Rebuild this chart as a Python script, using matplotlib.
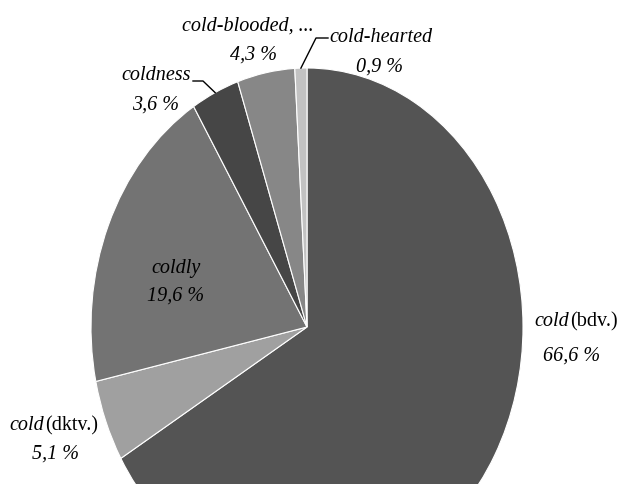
import matplotlib
matplotlib.use('Agg')
import matplotlib.pyplot as plt
import numpy as np

# Shares of the word forms (%)
names_it = ['cold', 'cold', 'coldly', 'coldness', 'cold-blooded, ...', 'cold-hearted']
names_rm = ['(bdv.)', '(dktv.)', '', '', '', '']
shares = [66.6, 5.1, 19.6, 3.6, 4.3, 0.9]
pct_labels = ['66,6 %', '5,1 %', '19,6 %', '3,6 %', '4,3 %', '0,9 %']
colors = ['#545454', '#a0a0a0', '#737373', '#464646', '#878787', '#c2c2c2']

# label positions in figure pixels (x, y from top); for two-font names x is the split point
name_pos = [(569, 322), (44, 426), (176, 268), (156, 76), (248, 26), (381, 37)]
pct_pos = [(572, 356), (55, 454), (176, 296), (156, 105), (254, 55), (380, 67)]
# leader lines: text end -> elbow -> wedge edge
leaders = {3: [(193, 81), (203, 81)], 5: [(328, 38), (316, 38)]}

plt.rcParams['font.family'] = 'Liberation Serif'

W, H = 624, 484
fig = plt.figure(figsize=(W / 100, H / 100), dpi=100)
# stretched (elliptical) pie: x radius 216 px, y radius 259 px, centre at (307, 327)
cx, cy, rx, ry = 307, 327, 216, 259
ax = fig.add_axes([(cx - rx) / W, (H - cy - ry) / H, 2 * rx / W, 2 * ry / H])

wedges, _ = ax.pie(shares, colors=colors, startangle=90, counterclock=False,
                   radius=1, wedgeprops=dict(edgecolor='white', linewidth=0.8))
ax.set_aspect('auto')
ax.set_xlim(-1, 1)
ax.set_ylim(-1, 1)
ax.axis('off')

def px(x, y):
    return x / W, 1 - y / H

size = 14.5
for i in range(len(shares)):
    if names_rm[i]:
        fig.text(*px(*name_pos[i]), names_it[i], ha='right', va='center',
                 fontsize=size, fontstyle='italic')
        fig.text(*px(name_pos[i][0] + 1, name_pos[i][1]), names_rm[i], ha='left',
                 va='center', fontsize=size)
    else:
        fig.text(*px(*name_pos[i]), names_it[i], ha='center', va='center',
                 fontsize=size, fontstyle='italic')
    fig.text(*px(*pct_pos[i]), pct_labels[i], ha='center', va='center',
             fontsize=size, fontstyle='italic')

for i, pts in leaders.items():
    w = wedges[i]
    mid = np.deg2rad((w.theta1 + w.theta2) / 2)
    edge = fig.transFigure.inverted().transform(ax.transData.transform((np.cos(mid), np.sin(mid))))
    xs = [px(*p)[0] for p in pts] + [edge[0]]
    ys = [px(*p)[1] for p in pts] + [edge[1]]
    fig.add_artist(plt.Line2D(xs, ys, color='black', linewidth=1.0,
                              transform=fig.transFigure))

plt.savefig('out.png', dpi=100)
